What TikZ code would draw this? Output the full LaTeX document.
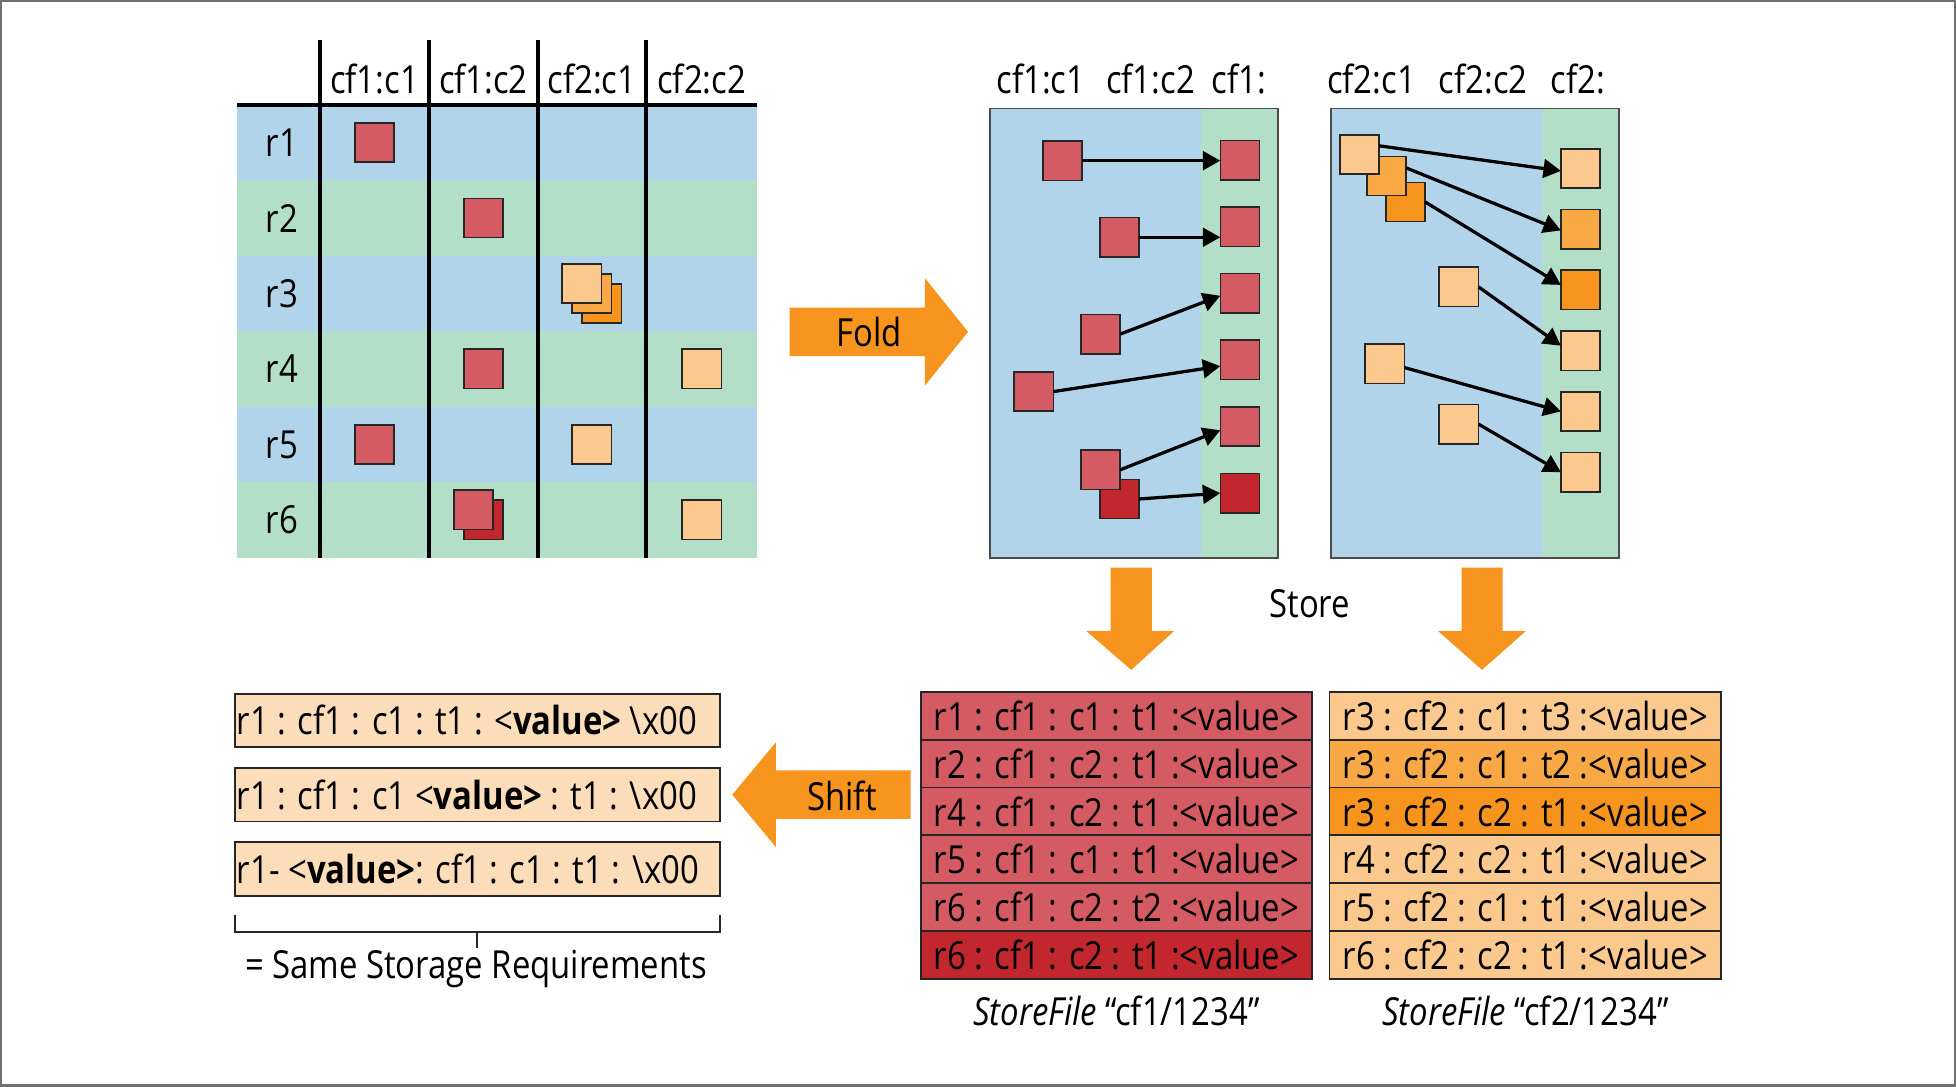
\documentclass[tikz,border=0pt]{standalone}
\usepackage{fontspec}
\setmainfont{Open Sans}[FakeStretch=0.85]
\usetikzlibrary{arrows.meta,calc}
\definecolor{bandblue}{HTML}{B2D4EA}
\definecolor{bandgreen}{HTML}{B3DFC8}
\definecolor{sqred}{HTML}{D45B64}
\definecolor{sqdred}{HTML}{C1272D}
\definecolor{sqlor}{HTML}{FBC98E}
\definecolor{sqmor}{HTML}{F8A945}
\definecolor{sqor}{HTML}{F7941D}
\definecolor{peach}{HTML}{FCDDBA}
\definecolor{arrowor}{HTML}{F7941D}
\definecolor{framegray}{HTML}{707070}
\newcommand\myfs{\fontsize{31}{33}\selectfont}
\newcommand\mybigfs{\fontsize{31}{33}\selectfont}
\tikzset{
  txt/.style={font=\myfs, inner sep=0pt, text=black},
  bigtxt/.style={font=\mybigfs, inner sep=0pt, text=black},
  sq/.style={draw=black!85, line width=1.3pt, minimum width=31.5, minimum height=31.5, inner sep=0pt, outer sep=0pt},
  sqR/.style={sq, fill=sqred},
  sqD/.style={sq, fill=sqdred},
  sqL/.style={sq, fill=sqlor},
  sqM/.style={sq, fill=sqmor},
  sqO/.style={sq, fill=sqor},
  tblline/.style={line width=3pt, black},
  boxline/.style={line width=1.5pt, black!70},
  conn/.style={line width=2.6pt, black, -{Triangle[length=14pt,width=15pt]}},
  rowbox/.style={draw=black!85, line width=1.5pt, minimum width=314, minimum height=38.4, inner sep=0pt, font=\myfs},
  lbox/.style={draw=black!85, line width=1.5pt, fill=peach, minimum width=389, minimum height=43, inner sep=0pt},
}
\begin{document}
\begin{tikzpicture}[x=1pt,y=-1pt]
\useasboundingbox (0,0) rectangle (1568,871);
\draw[framegray, line width=2pt] (1,1) rectangle (1567,870);

% ---------- table ----------
\foreach \i/\c in {0/bandblue,1/bandgreen,2/bandblue,3/bandgreen,4/bandblue,5/bandgreen}
  \fill[\c] (190,{84+60.5*\i}) rectangle (607,{84+60.5*(\i+1)});
\foreach \x in {256.5,344,431,518} \draw[tblline] (\x,32) -- (\x,447);
\draw[tblline] (190,84) -- (607,84);
\node[txt] (h1) at (300.25,63) {cf1:c1};
\node[txt] (h2) at (387.5,63) {cf1:c2};
\node[txt] (h3) at (474.5,63) {cf2:c1};
\node[txt] (h4) at (562.5,63) {cf2:c2};
\foreach \i in {1,...,6} \node[txt] (rl\i) at (226,{114.25+60.5*(\i-1)}) {r\i};
\node[sqR] (a11) at (300.25,114.25) {};
\node[sqR] (a22) at (387.5,174.75) {};
\node[sqO] (a33c) at (482.5,243.25) {};
\node[sqM] (a33b) at (474.5,235.25) {};
\node[sqL] (a33a) at (466.5,227.25) {};
\node[sqR] (a42) at (387.5,295.75) {};
\node[sqL] (a44) at (562.5,295.75) {};
\node[sqR] (a51) at (300.25,356.25) {};
\node[sqL] (a53) at (474.5,356.25) {};
\node[sqD] (a62b) at (387.5,416.75) {};
\node[sqR] (a62a) at (379.5,408.75) {};
\node[sqL] (a64) at (562.5,416.75) {};

% ---------- fold arrow ----------
\fill[arrowor] (633,246.5) -- (741.5,246.5) -- (741.5,223) -- (776,266) -- (741.5,309) -- (741.5,285.5) -- (633,285.5) -- cycle;
\node[bigtxt] (fold) at (697,266) {Fold};

% ---------- fold box cf1 ----------
\fill[bandblue] (793.5,87) rectangle (963,447);
\fill[bandgreen] (963,87) rectangle (1024.5,447);
\draw[boxline] (793.5,87) rectangle (1024.5,447);
\node[txt] (fh1) at (834.5,63) {cf1:c1};
\node[txt] (fh2) at (922.3,63) {cf1:c2};
\node[txt] (fh3) at (993.3,63) {cf1:};
\node[sqR] (lt1) at (994,128.3) {};
\node[sqR] (lt2) at (994,181.7) {};
\node[sqR] (lt3) at (994,235.1) {};
\node[sqR] (lt4) at (994,288.5) {};
\node[sqR] (lt5) at (994,341.9) {};
\node[sqD] (lt6) at (994,395.3) {};
\node[sqR] (l1) at (851.6,128.8) {};
\node[sqR] (l2) at (897.5,190.2) {};
\node[sqR] (l3) at (882.3,267.8) {};
\node[sqR] (l4) at (828.7,313.9) {};
\node[sqD] (l6) at (897.5,400) {};
\node[sqR] (l5) at (882.3,376.6) {};
\draw[conn] (l1.east) -- (l1.east -| lt1.west);
\draw[conn] (l2.east) -- (l2.east -| lt2.west);
\draw[conn] (l3.east) -- ($(lt3.west)+(0,2)$);
\draw[conn] (l4.east) -- ($(lt4.west)+(0,5)$);
\draw[conn] (l5.east) -- ($(lt5.west)+(0,3)$);
\draw[conn] (l6.east) -- (lt6.west);

% ---------- fold box cf2 ----------
\fill[bandblue] (1066.7,87) rectangle (1236,447);
\fill[bandgreen] (1236,87) rectangle (1297.5,447);
\draw[boxline] (1066.7,87) rectangle (1297.5,447);
\node[txt] (gh1) at (1099.4,63) {cf2:c1};
\node[txt] (gh2) at (1188.9,63) {cf2:c2};
\node[txt] (gh3) at (1264.8,63) {cf2:};
\node[sqL] (rt1) at (1267,135) {};
\node[sqM] (rt2) at (1267,183.7) {};
\node[sqO] (rt3) at (1267,232.4) {};
\node[sqL] (rt4) at (1267,281.1) {};
\node[sqL] (rt5) at (1267,329.8) {};
\node[sqL] (rt6) at (1267,378.5) {};
\node[sqO] (rc) at (1126.7,161.9) {};
\node[sqM] (rb) at (1111.5,141.1) {};
\node[sqL] (ra) at (1089.9,123.9) {};
\node[sqL] (r4) at (1169.5,230) {};
\node[sqL] (r5) at (1110,291.6) {};
\node[sqL] (r6) at (1169.5,340) {};
\draw[conn] ($(ra.east)+(0,-7)$) -- ($(rt1.west)+(0,2)$);
\draw[conn] ($(rb.east)+(0,-6.5)$) -- ($(rt2.west)+(0,1)$);
\draw[conn] (rc.east) -- ($(rt3.west)+(0,-4)$);
\draw[conn] (r4.east) -- ($(rt4.west)+(0,-4)$);
\draw[conn] ($(r5.east)+(0,3)$) -- (rt5.west);
\draw[conn] (r6.east) -- (rt6.west);

% ---------- store arrows ----------
\fill[arrowor] (890.3,455) -- (923.4,455) -- (923.4,506) -- (941,506) -- (906.8,537) -- (871,506) -- (890.3,506) -- cycle;
\fill[arrowor] (1171.6,455) -- (1204.6,455) -- (1204.6,506) -- (1223,506) -- (1188,537) -- (1153,506) -- (1171.6,506) -- cycle;
\node[txt] (store) at (1050,484) {Store};

% ---------- store files ----------
\node[rowbox, fill=sqred] (s1) at (895,573.7) {r1 : cf1 : c1 : t1 :<value>};
\node[rowbox, fill=sqred] (s2) at (895,612.1) {r2 : cf1 : c2 : t1 :<value>};
\node[rowbox, fill=sqred] (s3) at (895,650.5) {r4 : cf1 : c2 : t1 :<value>};
\node[rowbox, fill=sqred] (s4) at (895,688.9) {r5 : cf1 : c1 : t1 :<value>};
\node[rowbox, fill=sqred] (s5) at (895,727.3) {r6 : cf1 : c2 : t2 :<value>};
\node[rowbox, fill=sqdred] (s6) at (895,765.7) {r6 : cf1 : c2 : t1 :<value>};
\node[rowbox, fill=sqlor] (u1) at (1222.8,573.7) {r3 : cf2 : c1 : t3 :<value>};
\node[rowbox, fill=sqmor] (u2) at (1222.8,612.1) {r3 : cf2 : c1 : t2 :<value>};
\node[rowbox, fill=sqor] (u3) at (1222.8,650.5) {r3 : cf2 : c2 : t1 :<value>};
\node[rowbox, fill=sqlor] (u4) at (1222.8,688.9) {r4 : cf2 : c2 : t1 :<value>};
\node[rowbox, fill=sqlor] (u5) at (1222.8,727.3) {r5 : cf2 : c1 : t1 :<value>};
\node[rowbox, fill=sqlor] (u6) at (1222.8,765.7) {r6 : cf2 : c2 : t1 :<value>};
\node[txt] (sf1) at (895,810) {\textit{StoreFile} “cf1/1234”};
\node[txt] (sf2) at (1222.8,810) {\textit{StoreFile} “cf2/1234”};

% ---------- shift arrow ----------
\fill[arrowor] (730,617.5) -- (622,617.5) -- (622,595) -- (587,637) -- (622,679) -- (622,656.5) -- (730,656.5) -- cycle;
\node[bigtxt] (shift) at (675,638) {Shift};

% ---------- shifted keys ----------
\node[lbox] (b1) at (383,577.5) {};
\node[lbox] (b2) at (383,637) {};
\node[lbox] (b3) at (383,696.5) {};
\node[txt, anchor=west] (b1t) at ($(b1.west)+(2,0)$) {r1 : cf1 : c1 : t1 : <\textbf{value>} \textbackslash x00};
\node[txt, anchor=west] (b2t) at ($(b2.west)+(2,0)$) {r1 : cf1 : c1 <\textbf{value>} : t1 : \textbackslash x00};
\node[txt, anchor=west] (b3t) at ($(b3.west)+(2,0)$) {r1- <\textbf{value>}: cf1 : c1 : t1 : \textbackslash x00};
\coordinate (k1) at (188.5,733.5);
\coordinate (k2) at (577.5,733.5);
\coordinate (km) at (382.5,747);
\draw[line width=1.5pt, black!85] (k1) -- (k1 |- km) -- (k2 |- km) -- (k2);
\draw[line width=1.5pt, black!85] (km) -- ++(0,13);
\node[txt] (same) at (381.5,777) {= Same Storage Requirements};
\end{tikzpicture}
\end{document}
